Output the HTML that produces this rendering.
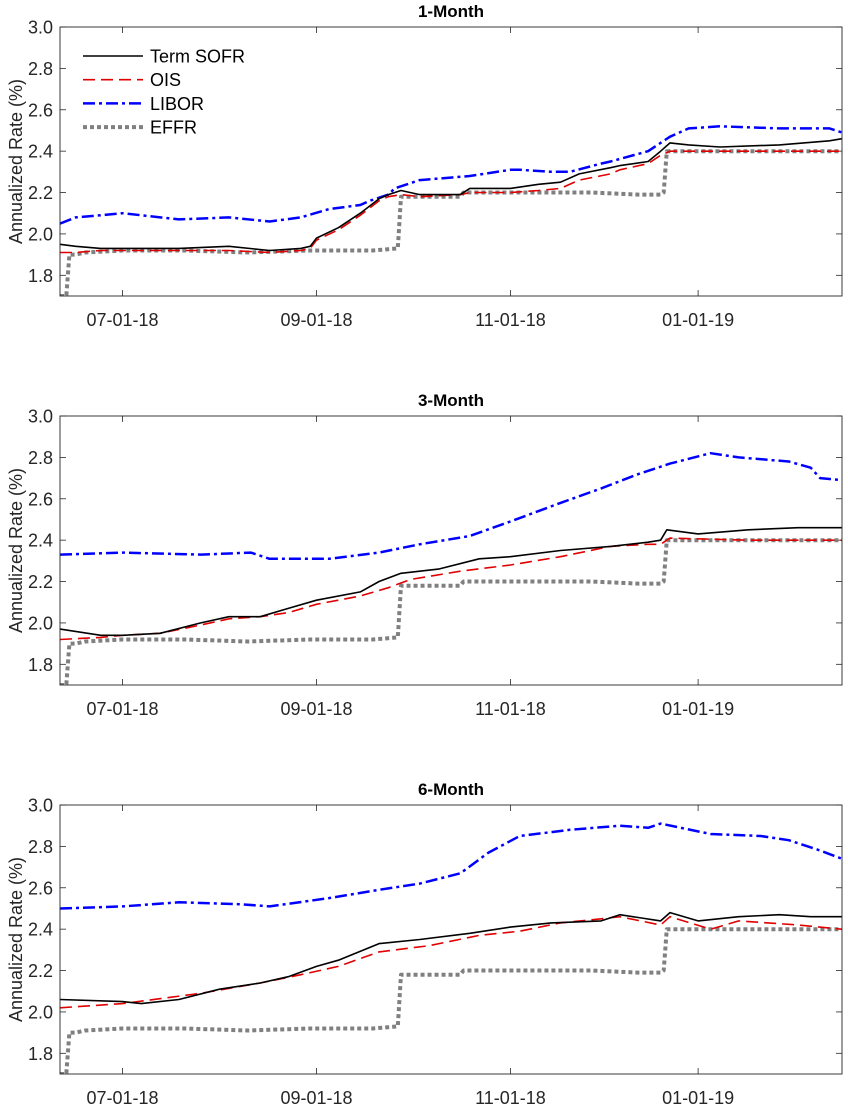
<!DOCTYPE html>
<html><head><meta charset="utf-8"><style>
html,body{margin:0;padding:0;background:#fff;}
svg{display:block;font-family:"Liberation Sans",Arial,sans-serif;}
</style></head><body>
<svg id="chart" width="848" height="1108" viewBox="0 0 848 1108"></svg>
<script>
// Day offsets from 2018-06-11
const xTickDays = [20, 82, 144, 204];
const xTickLabels = ["07-01-18", "09-01-18", "11-01-18", "01-01-19"];
const yTicks = [1.8, 2.0, 2.2, 2.4, 2.6, 2.8, 3.0];
const panelTitles = ["1-Month", "3-Month", "6-Month"];
const seriesNames = ["Term SOFR", "OIS", "LIBOR", "EFFR"];

const effrDays = [0,1,2,3,5,8,20,40,60,80,100,108,109,115,128,129,150,170,185,192,193,194,220,250];
const effrVals = [1.70,1.70,1.70,1.90,1.90,1.91,1.92,1.92,1.91,1.92,1.92,1.93,2.18,2.18,2.18,2.20,2.20,2.20,2.19,2.19,2.20,2.40,2.40,2.40];

const m1SofrDays = [0,5,13,20,38,54,67,77,80,82,89,96,102,105,109,115,128,131,144,153,160,166,176,179,188,192,195,201,211,230,246,250];
const m1SofrVals = [1.95,1.94,1.93,1.93,1.93,1.94,1.92,1.93,1.94,1.98,2.03,2.10,2.17,2.19,2.21,2.19,2.19,2.22,2.22,2.24,2.25,2.29,2.32,2.33,2.35,2.40,2.44,2.43,2.42,2.43,2.45,2.46];
const m1OisDays = [0,5,13,20,38,54,67,77,80,82,89,96,102,105,109,115,128,131,144,153,160,166,176,179,188,192,195,211,230,250];
const m1OisVals = [1.91,1.91,1.92,1.92,1.92,1.92,1.91,1.92,1.93,1.97,2.02,2.09,2.16,2.18,2.19,2.18,2.19,2.20,2.20,2.21,2.22,2.26,2.29,2.31,2.34,2.38,2.40,2.40,2.40,2.40];
const m1LiborDays = [0,5,13,20,38,54,67,77,86,96,99,105,107,115,131,144,147,157,163,173,176,188,195,201,211,230,246,250];
const m1LiborVals = [2.05,2.08,2.09,2.10,2.07,2.08,2.06,2.08,2.12,2.14,2.16,2.19,2.22,2.26,2.28,2.31,2.31,2.30,2.30,2.34,2.35,2.40,2.47,2.51,2.52,2.51,2.51,2.49];

const m3SofrDays = [0,13,20,32,45,54,64,73,82,96,102,109,121,134,144,160,176,188,192,194,204,220,236,250];
const m3SofrVals = [1.97,1.94,1.94,1.95,2.00,2.03,2.03,2.07,2.11,2.15,2.20,2.24,2.26,2.31,2.32,2.35,2.37,2.39,2.40,2.45,2.43,2.45,2.46,2.46];
const m3OisDays = [0,13,20,32,45,54,64,73,82,96,105,112,128,144,160,176,188,192,195,220,250];
const m3OisVals = [1.92,1.93,1.94,1.95,1.99,2.02,2.03,2.05,2.09,2.13,2.17,2.21,2.25,2.28,2.32,2.37,2.38,2.38,2.41,2.40,2.40];
const m3LiborDays = [0,20,45,61,67,86,102,115,131,144,160,173,185,195,208,217,233,240,243,250];
const m3LiborVals = [2.33,2.34,2.33,2.34,2.31,2.31,2.34,2.38,2.42,2.49,2.58,2.65,2.72,2.77,2.82,2.80,2.78,2.75,2.70,2.69];

const m6SofrDays = [0,20,26,38,51,64,73,82,89,102,115,131,144,157,173,179,192,195,204,217,230,240,250];
const m6SofrVals = [2.06,2.05,2.04,2.06,2.11,2.14,2.17,2.22,2.25,2.33,2.35,2.38,2.41,2.43,2.44,2.47,2.44,2.48,2.44,2.46,2.47,2.46,2.46];
const m6OisDays = [0,20,45,64,77,89,102,118,134,147,160,173,179,192,195,208,217,236,250];
const m6OisVals = [2.02,2.04,2.09,2.14,2.18,2.22,2.29,2.32,2.37,2.39,2.43,2.45,2.46,2.42,2.46,2.40,2.44,2.42,2.40];
const m6LiborDays = [0,20,38,58,67,86,102,115,128,137,147,163,179,188,192,208,224,233,243,250];
const m6LiborVals = [2.50,2.51,2.53,2.52,2.51,2.55,2.59,2.62,2.67,2.77,2.85,2.88,2.90,2.89,2.91,2.86,2.85,2.83,2.78,2.74];

const panels = [
  {sofr:[m1SofrDays,m1SofrVals], ois:[m1OisDays,m1OisVals], libor:[m1LiborDays,m1LiborVals]},
  {sofr:[m3SofrDays,m3SofrVals], ois:[m3OisDays,m3OisVals], libor:[m3LiborDays,m3LiborVals]},
  {sofr:[m6SofrDays,m6SofrVals], ois:[m6OisDays,m6OisVals], libor:[m6LiborDays,m6LiborVals]}
];

const NS = "http://www.w3.org/2000/svg";
const svg = document.getElementById("chart");
const L = 60, R = 842, DMAX = 250, YMIN = 1.7, YMAX = 3.0;
function mk(tag, attrs, parent){ const e=document.createElementNS(NS,tag); for(const k in attrs) e.setAttribute(k,attrs[k]); (parent||svg).appendChild(e); return e; }
const xs = d => L + d*(R-L)/DMAX;

const styles = {
  sofr:{stroke:"#000", w:1.6, dash:"", name:"term-sofr-line"},
  ois:{stroke:"#e00000", w:1.6, dash:"12 6", name:"ois-line"},
  libor:{stroke:"#0000ff", w:2.5, dash:"12 4 3 4", name:"libor-line"},
  effr:{stroke:"#808080", w:4, dash:"4 3", name:"effr-line"}
};

panels.forEach((p, i) => {
  const top = 27 + i*389, bot = 296 + i*389;
  const ys = v => top + (YMAX - v)*(bot-top)/(YMAX-YMIN);
  const g = mk("g", {});
  
  
  const clipId = "clip"+i;
  const cp = mk("clipPath", {id:clipId}, g);
  mk("rect", {x:L, y:top, width:R-L, height:bot-top}, cp);

  const title = mk("text", {x:(L+R)/2, y:top-10, "text-anchor":"middle", "font-size":17, "font-weight":"bold", fill:"#000"}, g);
  title.textContent = panelTitles[i];
  
  

  const yl = mk("text", {x:0, y:0, transform:`translate(17,${(top+bot)/2}) rotate(-90)`, "text-anchor":"middle", "dominant-baseline":"middle", "font-size":18, fill:"#262626"}, g);
  yl.textContent = "Annualized Rate (%)";
  
  

  yTicks.forEach(t => {
    const y = ys(t);
    mk("line", {x1:L, x2:L+6, y1:y, y2:y, stroke:"#262626", "stroke-width":0.8}, g);
    mk("line", {x1:R-6, x2:R, y1:y, y2:y, stroke:"#262626", "stroke-width":0.8}, g);
    const tl = mk("text", {x:L-7, y:y+6.5, "text-anchor":"end", "font-size":18, fill:"#262626"}, g);
    tl.textContent = t.toFixed(1);
    
    
  });
  xTickDays.forEach((d, k) => {
    const x = xs(d);
    mk("line", {x1:x, x2:x, y1:bot, y2:bot-6, stroke:"#262626", "stroke-width":0.8}, g);
    mk("line", {x1:x, x2:x, y1:top, y2:top+6, stroke:"#262626", "stroke-width":0.8}, g);
    const tl = mk("text", {x:x, y:bot+30, "text-anchor":"middle", "font-size":18, fill:"#262626"}, g);
    tl.textContent = xTickLabels[k];
    
    
  });

  const series = {effr:[effrDays, effrVals], libor:p.libor, ois:p.ois, sofr:p.sofr};
  ["effr","libor","ois","sofr"].forEach(key => {
    const [ds, vs] = series[key], st = styles[key];
    const pts = ds.map((d,j) => xs(d).toFixed(1)+","+ys(vs[j]).toFixed(1)).join(" ");
    const pl = mk("polyline", {points:pts, fill:"none", stroke:st.stroke, "stroke-width":st.w, "stroke-dasharray":st.dash, "clip-path":`url(#${clipId})`, "stroke-linejoin":"round"}, g);
    
    
  });

  const box = mk("rect", {x:L, y:top, width:R-L, height:bot-top, fill:"none", stroke:"#262626", "stroke-width":0.9}, g);
  
  

  if (i === 0) {
    const lg = mk("g", {}, g);
    
    
    ["sofr","ois","libor","effr"].forEach((key, k) => {
      const st = styles[key], y = 56 + k*23.7;
      mk("line", {x1:83, x2:143, y1:y, y2:y, stroke:st.stroke, "stroke-width":st.w, "stroke-dasharray":st.dash}, lg);
      const t = mk("text", {x:150, y:y+6.5, "font-size":18, fill:"#000"}, lg);
      t.textContent = seriesNames[k];
      
      
    });
  }
});
</script>
</body></html>
